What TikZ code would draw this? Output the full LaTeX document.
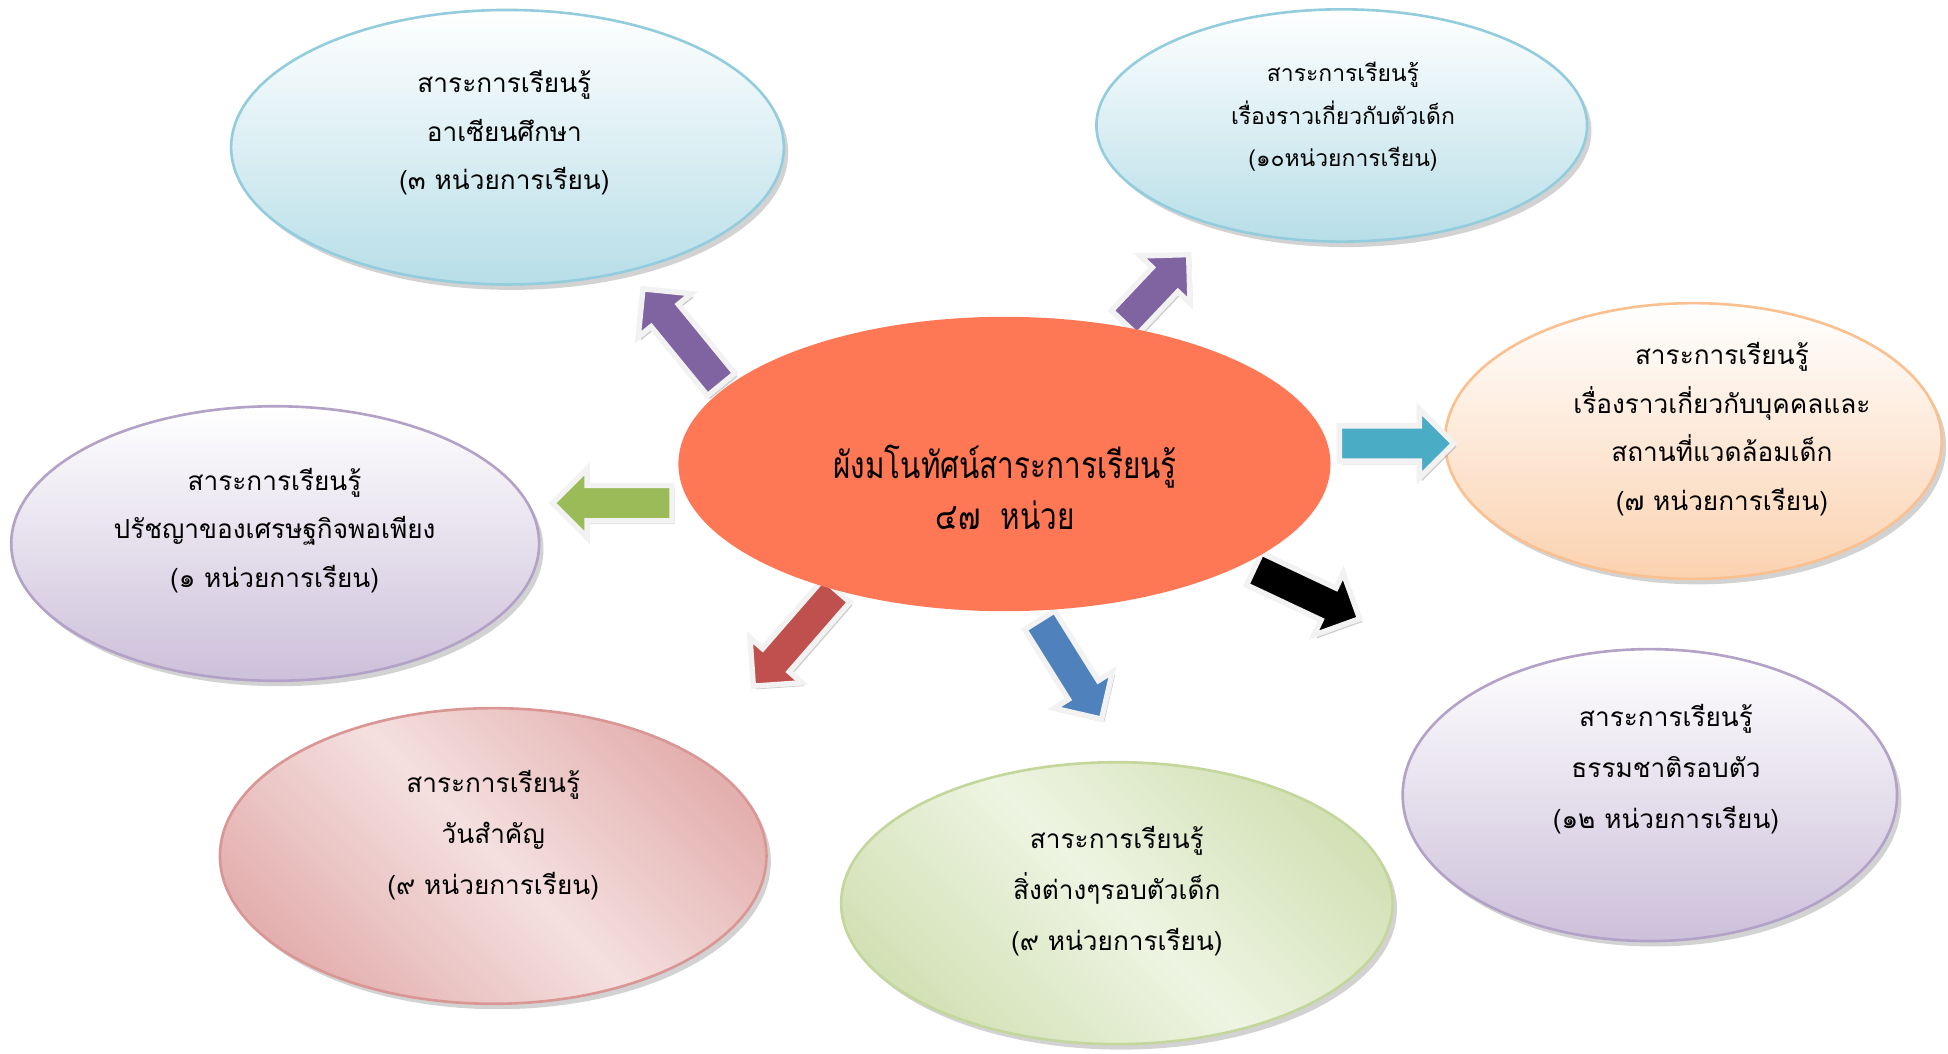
\documentclass[tikz,border=0pt]{standalone}
\usepackage{fontspec}
\newfontfamily\thaifont[Script=Thai]{Loma}
\newfontfamily\hubfont[Script=Thai, FakeStretch=0.8]{Loma}
\usetikzlibrary{shapes.geometric,shapes.arrows,shadows}

\definecolor{bubbleblue}{HTML}{B7DEE8}
\definecolor{rimblue}{HTML}{93CDDD}
\definecolor{bubbleorange}{HTML}{FBD2B0}
\definecolor{rimorange}{HTML}{FAC090}
\definecolor{bubblepurple}{HTML}{CCC0DA}
\definecolor{rimpurple}{HTML}{B3A2C7}
\definecolor{pinkdark}{HTML}{E3B0AF}
\definecolor{pinklight}{HTML}{F4E0DF}
\definecolor{rimpink}{HTML}{D99694}
\definecolor{greendark}{HTML}{D3E1B6}
\definecolor{greenlight}{HTML}{EEF4E2}
\definecolor{rimgreen}{HTML}{C3D69B}
\definecolor{hubcolor}{HTML}{FF7856}
\definecolor{arrpurple}{HTML}{8064A2}
\definecolor{arrcyan}{HTML}{4BACC6}
\definecolor{arrgreen}{HTML}{9BBB59}
\definecolor{arrred}{HTML}{C0504D}
\definecolor{arrblue}{HTML}{4F81BD}

\tikzset{
  topic/.style={ellipse, inner sep=0pt, line width=1.2pt,
    drop shadow={shadow xshift=2pt, shadow yshift=-2.5pt, fill=black!35}},
  topictext/.style={align=center, inner sep=0pt,
    font=\thaifont\fontsize{12}{22.2}\selectfont},
  bigarrow/.style={single arrow, draw=black!5, line width=2.5pt,
    inner xsep=0pt, inner ysep=0.24cm, single arrow head extend=0.27cm,
    single arrow tip angle=90, single arrow head indent=0pt,
    sloped, allow upside down,
    drop shadow={shadow xshift=1.2pt, shadow yshift=-1.5pt, fill=black!40}}
}

\begin{document}
\begin{tikzpicture}[x=0.02cm, y=0.02cm]
  \useasboundingbox (0,0) rectangle (1568,848);

  % outer topics
  \node[topic, draw=rimblue, top color=white, bottom color=bubbleblue,
    minimum width=8.9cm, minimum height=4.42cm] (asean) at (408.5,729.5) {};
  \node[topictext] (asean-text) at (406,741)
    {สาระการเรียนรู้\\อาเซียนศึกษา\\(๓ หน่วยการเรียน)};

  \node[topic, draw=rimblue, top color=white, bottom color=bubbleblue,
    minimum width=7.9cm, minimum height=3.74cm] (kid) at (1080,747) {};
  \node[topictext, font=\thaifont\fontsize{10.5}{19.4}\selectfont] (kid-text) at (1081,754)
    {สาระการเรียนรู้\\เรื่องราวเกี่ยวกับตัวเด็ก\\(๑๐หน่วยการเรียน)};

  \node[topic, draw=rimorange, top color=white, bottom color=bubbleorange,
    minimum width=8cm, minimum height=4.44cm] (people) at (1363,493) {};
  \node[topictext] (people-text) at (1386,502.5)
    {สาระการเรียนรู้\\เรื่องราวเกี่ยวกับบุคคลและ\\สถานที่แวดล้อมเด็ก\\(๗ หน่วยการเรียน)};

  \node[topic, draw=rimpurple, top color=white, bottom color=bubblepurple,
    minimum width=8.5cm, minimum height=4.42cm] (economy) at (221.5,410.5) {};
  \node[topictext] (economy-text) at (221,421)
    {สาระการเรียนรู้\\ปรัชญาของเศรษฐกิจพอเพียง\\(๑ หน่วยการเรียน)};

  \node[topic, draw=rimpurple, top color=white, bottom color=bubblepurple,
    minimum width=7.96cm, minimum height=4.7cm] (nature) at (1328,208) {};
  \node[topictext, font=\thaifont\fontsize{12}{23.4}\selectfont] (nature-text) at (1341,229)
    {สาระการเรียนรู้\\ธรรมชาติรอบตัว\\(๑๒ หน่วยการเรียน)};

  \node[topic, draw=rimpink, left color=pinkdark, right color=pinkdark,
    middle color=pinklight, shading angle=-45,
    minimum width=8.8cm, minimum height=4.76cm] (days) at (397,159) {};
  \node[topictext, font=\thaifont\fontsize{12}{23.4}\selectfont] (days-text) at (397,176)
    {สาระการเรียนรู้\\วันสำคัญ\\(๙ หน่วยการเรียน)};

  \node[topic, draw=rimgreen, left color=greendark, right color=greendark,
    middle color=greenlight, shading angle=-45,
    minimum width=8.88cm, minimum height=4.54cm] (things) at (899,121) {};
  \node[topictext, font=\thaifont\fontsize{12}{23.4}\selectfont] (things-text) at (899,131)
    {สาระการเรียนรู้\\สิ่งต่างๆรอบตัวเด็ก\\(๙ หน่วยการเรียน)};

  % arrows
  \coordinate (asean-tail) at (585,533);   \coordinate (asean-tip) at (522,610);
  \coordinate (kid-tail) at (900,583);     \coordinate (kid-tip) at (952,638);
  \coordinate (people-tail) at (1071,491); \coordinate (people-tip) at (1163,491);
  \coordinate (economy-tail) at (548,443); \coordinate (economy-tip) at (452,443);
  \coordinate (days-tail) at (678,378);    \coordinate (days-tip) at (611,301);
  \coordinate (things-tail) at (833,355);  \coordinate (things-tip) at (883,275);
  \coordinate (nature-tail) at (1003,393); \coordinate (nature-tip) at (1088,353);

  \path (asean-tail) -- node[bigarrow, fill=arrpurple, minimum height=1.99cm] (asean-arrow) {} (asean-tip);
  \path (kid-tail) -- node[bigarrow, fill=arrpurple, minimum height=1.51cm] (kid-arrow) {} (kid-tip);
  \path (people-tail) -- node[bigarrow, fill=arrcyan, minimum height=1.84cm] (people-arrow) {} (people-tip);
  \path (economy-tail) -- node[bigarrow, fill=arrgreen, minimum height=1.92cm] (economy-arrow) {} (economy-tip);
  \path (days-tail) -- node[bigarrow, fill=arrred, minimum height=2.04cm] (days-arrow) {} (days-tip);
  \path (things-tail) -- node[bigarrow, fill=arrblue, minimum height=1.88cm] (things-arrow) {} (things-tip);
  \path (nature-tail) -- node[bigarrow, fill=black, minimum height=1.88cm] (nature-arrow) {} (nature-tip);

  % hub
  \node[ellipse, fill=hubcolor, inner sep=0pt,
    minimum width=10.5cm, minimum height=4.74cm] (hub) at (808.5,474.5) {};
  \node[topictext, font=\hubfont\fontsize{17}{23.4}\selectfont] (hub-text) at (809,455.5)
    {ผังมโนทัศน์สาระการเรียนรู้\\๔๗~~หน่วย};
\end{tikzpicture}
\end{document}
